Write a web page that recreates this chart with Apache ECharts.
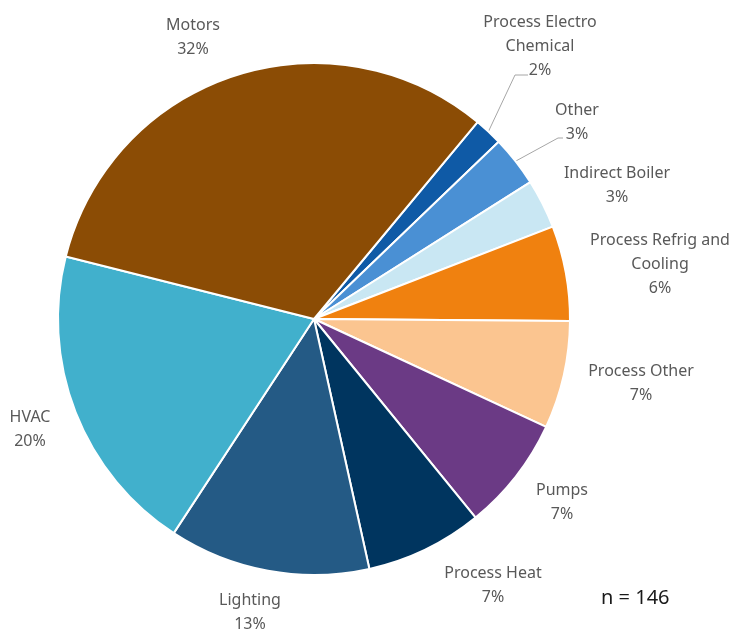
<!DOCTYPE html>
<html>
<head>
<meta charset="utf-8">
<script src="https://cdn.jsdelivr.net/npm/echarts@6/dist/echarts.min.js"></script>
<style>html,body{margin:0;padding:0;background:#fff}#c{width:737px;height:631px}</style>
</head>
<body>
<div id="c"></div>
<script>
// Data (clockwise from the upper-right start)
const categories = ['Process Electro\nChemical', 'Other', 'Indirect Boiler', 'Process Refrig and\nCooling', 'Process Other', 'Pumps', 'Process Heat', 'Lighting', 'HVAC', 'Motors'];
const shares = [1.8, 3.2, 3.1, 6.0, 6.8, 7.2, 7.4, 12.7, 19.7, 32.1];
const colors = ['#0f5aa6', '#4a90d4', '#c9e7f3', '#f0810f', '#fbc590', '#6b3a85', '#00355f', '#245a85', '#41b0cc', '#8b4c05'];
const sampleNote = 'n = 146';

// Layout (label anchor points, text centres)
const CX = 314, CY = 319, R = 256, START = 50.3;
const labelPos = [[540, 46], [577, 122], [617, 185], [660, 264], [641, 383], [562, 502], [493, 585], [250, 612], [30, 429], [193, 37]];
const withLine = {0: [[515, 75], [528, 75]], 1: [[558, 138], [563, 138]]};

const total = shares.reduce((a, b) => a + b, 0);
function midAngle(i) {
  let before = 0;
  for (let k = 0; k < i; k++) before += shares[k];
  const a = START - (before + shares[i] / 2) / total * 360;
  return a * Math.PI / 180;
}

const chart = echarts.init(document.getElementById('c'));
chart.setOption({
  animation: false,
  title: {
    text: sampleNote, left: 596, top: 583,
    textStyle: {fontFamily: 'Noto Sans', fontSize: 20, fontWeight: 'normal', color: '#1a1a1a'}
  },
  series: [{
    type: 'pie',
    center: [CX, CY],
    radius: R,
    startAngle: START,
    clockwise: true,
    percentPrecision: 0,
    avoidLabelOverlap: false,
    itemStyle: {borderColor: '#ffffff', borderWidth: 2},
    label: {
      show: true,
      position: 'outside',
      formatter: '{b}\n{d}%',
      fontFamily: 'Noto Sans',
      fontSize: 16,
      lineHeight: 24,
      color: '#595959',
      align: 'center'
    },
    labelLine: {show: false, lineStyle: {color: '#a6a6a6', width: 1}},
    labelLayout: function (p) {
      const i = p.dataIndex;
      const out = {x: labelPos[i][0], y: labelPos[i][1], align: 'center', verticalAlign: 'middle', hideOverlap: false};
      if (withLine[i]) {
        const a = midAngle(i);
        out.labelLinePoints = [[CX + R * Math.cos(a), CY - R * Math.sin(a)], withLine[i][0], withLine[i][1]];
      }
      return out;
    },
    data: categories.map((name, i) => ({
      name: name,
      value: shares[i],
      itemStyle: {color: colors[i]},
      labelLine: {show: !!withLine[i]}
    }))
  }]
});
</script>
</body>
</html>
